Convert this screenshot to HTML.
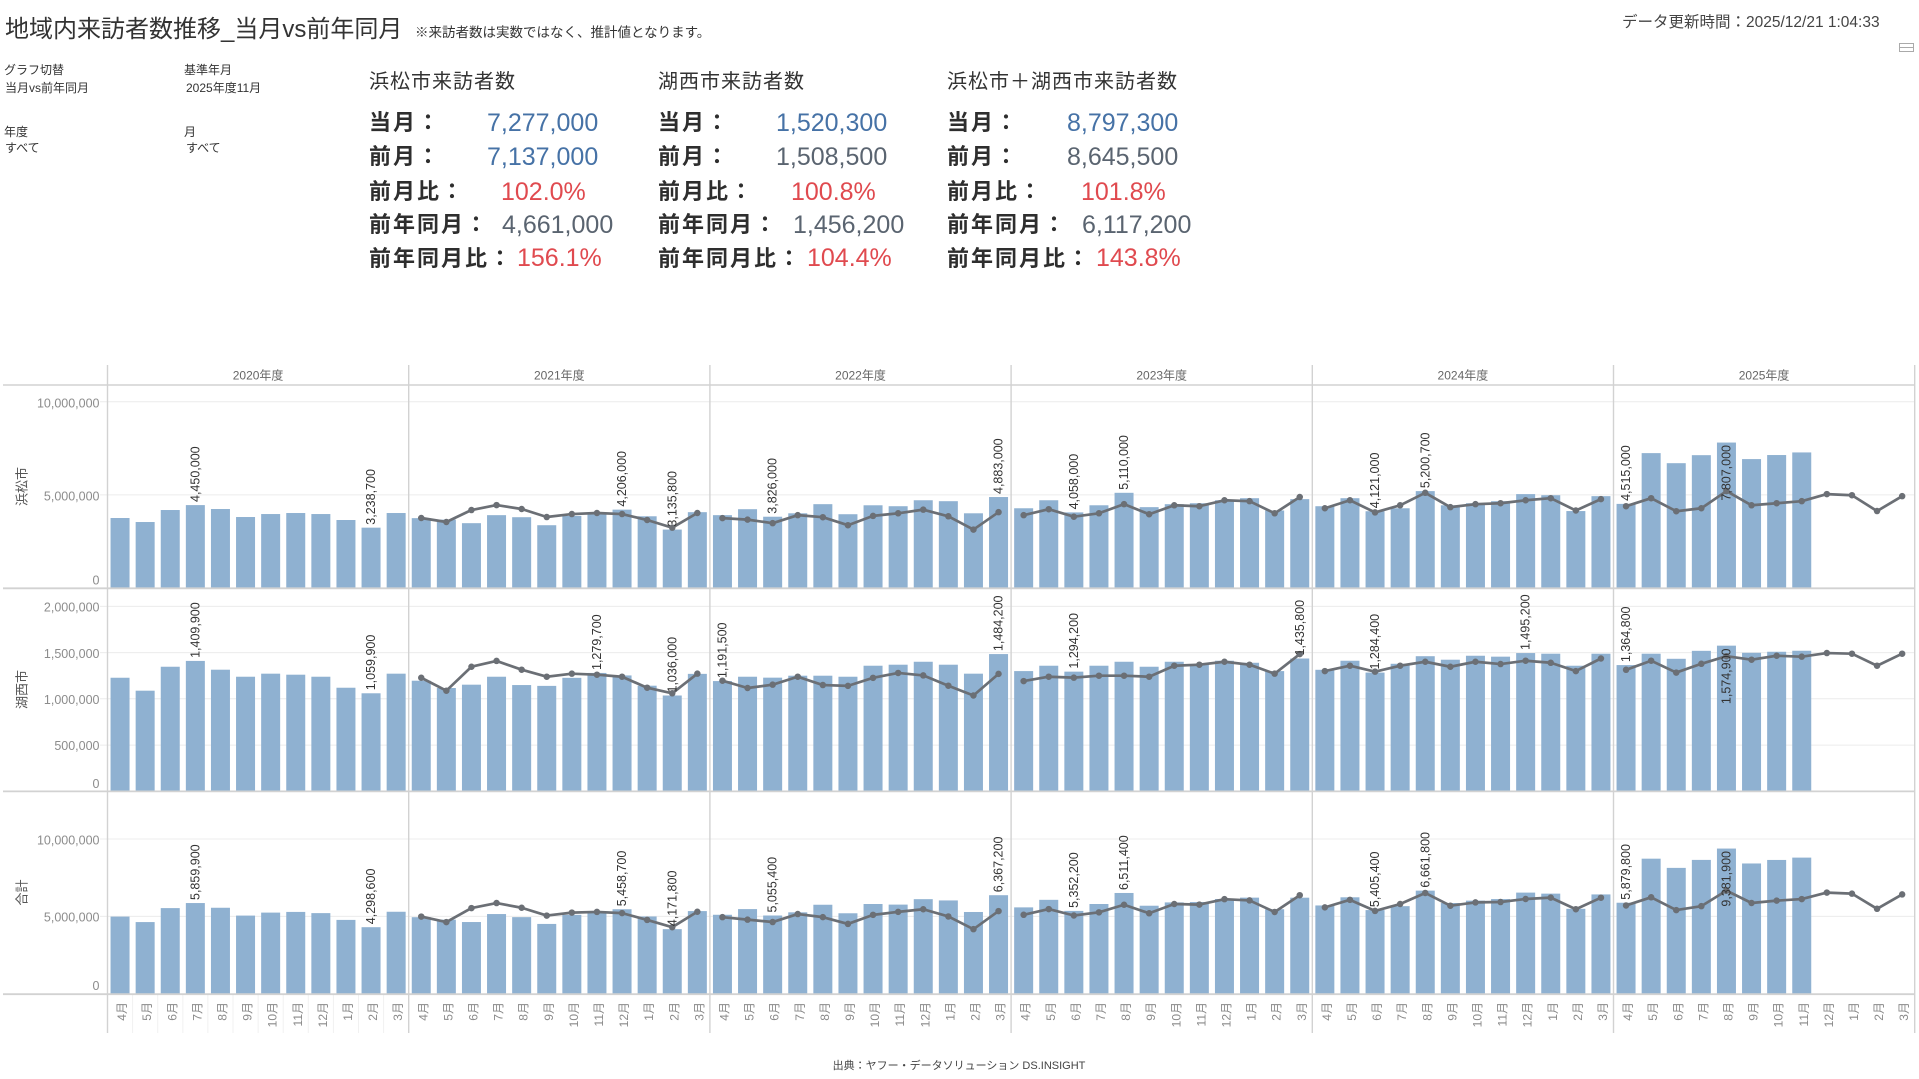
<!DOCTYPE html>
<html><head><meta charset="utf-8">
<style>
html,body{margin:0;padding:0;background:#fff;}
body{width:1919px;height:1079px;position:relative;overflow:hidden;font-family:"Liberation Sans","Noto Sans CJK JP",sans-serif;}
.a{position:absolute;white-space:nowrap;line-height:1;}
.f{font-size:12px;color:#333;}
.h{font-size:20px;color:#333;letter-spacing:1px;}
.l{font-size:22px;font-weight:bold;color:#2e2e2e;letter-spacing:2px;}
.v{font-size:25px;}
.b{color:#4672a6;}.g{color:#5a6470;}.r{color:#e04a4f;}
svg{position:absolute;left:0;top:0;}
.bar rect{fill:#8fb1d1;}
.ln{fill:none;stroke:#6b6f75;stroke-width:2.7;stroke-linejoin:round;}
.dt{fill:none;stroke:#6b6f75;stroke-width:6.5;stroke-linecap:round;}
.dl{font-size:12.5px;fill:#333;}
.ax{font-size:12.5px;fill:#8c8c8c;}
.mx{font-size:12px;fill:#8a8a8a;}
</style></head><body>

<div class="a" style="left:5px;top:18px;font-size:24px;color:#333;">地域内来訪者数推移_当月vs前年同月</div>
<div class="a" style="left:415px;top:26px;font-size:13.5px;color:#333;">※来訪者数は実数ではなく、推計値となります。</div>
<div class="a" style="left:1622px;top:15px;font-size:15.5px;color:#444;">データ更新時間：2025/12/21 1:04:33</div>
<div class="a" style="left:1899px;top:43px;width:13px;height:7px;border:1px solid #aaa;"><div style="position:absolute;left:0;top:3px;width:13px;height:1px;background:#aaa;"></div></div>

<div class="a f" style="left:4px;top:64px;">グラフ切替</div>
<div class="a f" style="left:5px;top:82px;">当月vs前年同月</div>
<div class="a f" style="left:184px;top:64px;">基準年月</div>
<div class="a f" style="left:186px;top:82px;">2025年度11月</div>
<div class="a f" style="left:4px;top:126px;">年度</div>
<div class="a f" style="left:5px;top:142px;">すべて</div>
<div class="a f" style="left:184px;top:126px;">月</div>
<div class="a f" style="left:186px;top:142px;">すべて</div>

<div class="a h" style="left:369px;top:72px;">浜松市来訪者数</div>
<div class="a h" style="left:658px;top:72px;">湖西市来訪者数</div>
<div class="a h" style="left:947px;top:72px;">浜松市＋湖西市来訪者数</div>

<div class="a l" style="left:369px;top:112px;">当月：</div>
<div class="a l" style="left:369px;top:146px;">前月：</div>
<div class="a l" style="left:369px;top:181px;">前月比：</div>
<div class="a l" style="left:369px;top:214px;">前年同月：</div>
<div class="a l" style="left:369px;top:248px;">前年同月比：</div>
<div class="a l" style="left:658px;top:112px;">当月：</div>
<div class="a l" style="left:658px;top:146px;">前月：</div>
<div class="a l" style="left:658px;top:181px;">前月比：</div>
<div class="a l" style="left:658px;top:214px;">前年同月：</div>
<div class="a l" style="left:658px;top:248px;">前年同月比：</div>
<div class="a l" style="left:947px;top:112px;">当月：</div>
<div class="a l" style="left:947px;top:146px;">前月：</div>
<div class="a l" style="left:947px;top:181px;">前月比：</div>
<div class="a l" style="left:947px;top:214px;">前年同月：</div>
<div class="a l" style="left:947px;top:248px;">前年同月比：</div>

<div class="a v b" style="left:487px;top:111px;">7,277,000</div>
<div class="a v b" style="left:487px;top:145px;">7,137,000</div>
<div class="a v r" style="left:501px;top:180px;">102.0%</div>
<div class="a v g" style="left:502px;top:213px;">4,661,000</div>
<div class="a v r" style="left:517px;top:246px;">156.1%</div>
<div class="a v b" style="left:776px;top:111px;">1,520,300</div>
<div class="a v g" style="left:776px;top:145px;">1,508,500</div>
<div class="a v r" style="left:791px;top:180px;">100.8%</div>
<div class="a v g" style="left:793px;top:213px;">1,456,200</div>
<div class="a v r" style="left:807px;top:246px;">104.4%</div>
<div class="a v b" style="left:1067px;top:111px;">8,797,300</div>
<div class="a v g" style="left:1067px;top:145px;">8,645,500</div>
<div class="a v r" style="left:1081px;top:180px;">101.8%</div>
<div class="a v g" style="left:1082px;top:213px;">6,117,200</div>
<div class="a v r" style="left:1096px;top:246px;">143.8%</div>

<svg width="1919" height="1079" viewBox="0 0 1919 1079" font-family="Liberation Sans, Noto Sans CJK JP, sans-serif">
<!-- gridlines -->
<g stroke="#ececec" stroke-width="1">
<line x1="100" y1="401.7" x2="1914" y2="401.7"/><line x1="100" y1="494.9" x2="1914" y2="494.9"/>
<line x1="100" y1="606.4" x2="1914" y2="606.4"/><line x1="100" y1="652.6" x2="1914" y2="652.6"/>
<line x1="100" y1="698.8" x2="1914" y2="698.8"/><line x1="100" y1="745.1" x2="1914" y2="745.1"/>
<line x1="100" y1="839" x2="1914" y2="839"/><line x1="100" y1="916.4" x2="1914" y2="916.4"/>
</g>
<!-- month separators in axis -->
<g stroke="#f1f1f1" stroke-width="1">
<line x1="132.6" y1="995" x2="132.6" y2="1033"/><line x1="157.7" y1="995" x2="157.7" y2="1033"/><line x1="182.8" y1="995" x2="182.8" y2="1033"/><line x1="207.9" y1="995" x2="207.9" y2="1033"/><line x1="233" y1="995" x2="233" y2="1033"/><line x1="258.1" y1="995" x2="258.1" y2="1033"/><line x1="283.2" y1="995" x2="283.2" y2="1033"/><line x1="308.3" y1="995" x2="308.3" y2="1033"/><line x1="333.4" y1="995" x2="333.4" y2="1033"/><line x1="358.5" y1="995" x2="358.5" y2="1033"/><line x1="383.6" y1="995" x2="383.6" y2="1033"/>
</g>

<!-- PANEL 1 bars -->
<g class="bar">
<g transform="translate(107.5,588) scale(1,-18.63)"><rect x="3.05" width="19" height="3.757"/><rect x="28.15" width="19" height="3.542"/><rect x="53.25" width="19" height="4.186"/><rect x="78.35" width="19" height="4.45"/><rect x="103.45" width="19" height="4.24"/><rect x="128.55" width="19" height="3.81"/><rect x="153.65" width="19" height="3.97"/><rect x="178.75" width="19" height="4.025"/><rect x="203.85" width="19" height="3.97"/><rect x="228.95" width="19" height="3.65"/><rect x="254.05" width="19" height="3.239"/><rect x="279.15" width="19" height="4.025"/></g>
<g transform="translate(408.7,588) scale(1,-18.63)"><rect x="3.05" width="19" height="3.75"/><rect x="28.15" width="19" height="3.67"/><rect x="53.25" width="19" height="3.48"/><rect x="78.35" width="19" height="3.91"/><rect x="103.45" width="19" height="3.8"/><rect x="128.55" width="19" height="3.37"/><rect x="153.65" width="19" height="3.87"/><rect x="178.75" width="19" height="4.01"/><rect x="203.85" width="19" height="4.206"/><rect x="228.95" width="19" height="3.85"/><rect x="254.05" width="19" height="3.136"/><rect x="279.15" width="19" height="4.07"/></g>
<g transform="translate(709.9,588) scale(1,-18.63)"><rect x="3.05" width="19" height="3.91"/><rect x="28.15" width="19" height="4.23"/><rect x="53.25" width="19" height="3.826"/><rect x="78.35" width="19" height="4.01"/><rect x="103.45" width="19" height="4.5"/><rect x="128.55" width="19" height="3.96"/><rect x="153.65" width="19" height="4.44"/><rect x="178.75" width="19" height="4.39"/><rect x="203.85" width="19" height="4.71"/><rect x="228.95" width="19" height="4.66"/><rect x="254.05" width="19" height="4.01"/><rect x="279.15" width="19" height="4.883"/></g>
<g transform="translate(1011.1,588) scale(1,-18.63)"><rect x="3.05" width="19" height="4.28"/><rect x="28.15" width="19" height="4.71"/><rect x="53.25" width="19" height="4.058"/><rect x="78.35" width="19" height="4.44"/><rect x="103.45" width="19" height="5.11"/><rect x="128.55" width="19" height="4.34"/><rect x="153.65" width="19" height="4.5"/><rect x="178.75" width="19" height="4.55"/><rect x="203.85" width="19" height="4.71"/><rect x="228.95" width="19" height="4.82"/><rect x="254.05" width="19" height="4.16"/><rect x="279.15" width="19" height="4.77"/></g>
<g transform="translate(1312.3,588) scale(1,-18.63)"><rect x="3.05" width="19" height="4.39"/><rect x="28.15" width="19" height="4.82"/><rect x="53.25" width="19" height="4.121"/><rect x="78.35" width="19" height="4.28"/><rect x="103.45" width="19" height="5.201"/><rect x="128.55" width="19" height="4.44"/><rect x="153.65" width="19" height="4.55"/><rect x="178.75" width="19" height="4.661"/><rect x="203.85" width="19" height="5.04"/><rect x="228.95" width="19" height="4.98"/><rect x="254.05" width="19" height="4.13"/><rect x="279.15" width="19" height="4.93"/></g>
<g transform="translate(1613.5,588) scale(1,-18.63)"><rect x="3.05" width="19" height="4.515"/><rect x="28.15" width="19" height="7.24"/><rect x="53.25" width="19" height="6.7"/><rect x="78.35" width="19" height="7.13"/><rect x="103.45" width="19" height="7.807"/><rect x="128.55" width="19" height="6.92"/><rect x="153.65" width="19" height="7.137"/><rect x="178.75" width="19" height="7.277"/></g>
</g>

<!-- PANEL 2 bars -->
<g class="bar">
<g transform="translate(107.5,791.3) scale(1,-92.47)"><rect x="3.05" width="19" height="1.228"/><rect x="28.15" width="19" height="1.088"/><rect x="53.25" width="19" height="1.347"/><rect x="78.35" width="19" height="1.41"/><rect x="103.45" width="19" height="1.315"/><rect x="128.55" width="19" height="1.239"/><rect x="153.65" width="19" height="1.272"/><rect x="178.75" width="19" height="1.261"/><rect x="203.85" width="19" height="1.239"/><rect x="228.95" width="19" height="1.12"/><rect x="254.05" width="19" height="1.06"/><rect x="279.15" width="19" height="1.272"/></g>
<g transform="translate(408.7,791.3) scale(1,-92.47)"><rect x="3.05" width="19" height="1.196"/><rect x="28.15" width="19" height="1.117"/><rect x="53.25" width="19" height="1.153"/><rect x="78.35" width="19" height="1.239"/><rect x="103.45" width="19" height="1.149"/><rect x="128.55" width="19" height="1.14"/><rect x="153.65" width="19" height="1.227"/><rect x="178.75" width="19" height="1.28"/><rect x="203.85" width="19" height="1.253"/><rect x="228.95" width="19" height="1.142"/><rect x="254.05" width="19" height="1.036"/><rect x="279.15" width="19" height="1.27"/></g>
<g transform="translate(709.9,791.3) scale(1,-92.47)"><rect x="3.05" width="19" height="1.192"/><rect x="28.15" width="19" height="1.239"/><rect x="53.25" width="19" height="1.229"/><rect x="78.35" width="19" height="1.25"/><rect x="103.45" width="19" height="1.25"/><rect x="128.55" width="19" height="1.239"/><rect x="153.65" width="19" height="1.358"/><rect x="178.75" width="19" height="1.369"/><rect x="203.85" width="19" height="1.401"/><rect x="228.95" width="19" height="1.369"/><rect x="254.05" width="19" height="1.272"/><rect x="279.15" width="19" height="1.484"/></g>
<g transform="translate(1011.1,791.3) scale(1,-92.47)"><rect x="3.05" width="19" height="1.3"/><rect x="28.15" width="19" height="1.358"/><rect x="53.25" width="19" height="1.294"/><rect x="78.35" width="19" height="1.358"/><rect x="103.45" width="19" height="1.401"/><rect x="128.55" width="19" height="1.347"/><rect x="153.65" width="19" height="1.401"/><rect x="178.75" width="19" height="1.376"/><rect x="203.85" width="19" height="1.412"/><rect x="228.95" width="19" height="1.39"/><rect x="254.05" width="19" height="1.3"/><rect x="279.15" width="19" height="1.436"/></g>
<g transform="translate(1312.3,791.3) scale(1,-92.47)"><rect x="3.05" width="19" height="1.314"/><rect x="28.15" width="19" height="1.412"/><rect x="53.25" width="19" height="1.284"/><rect x="78.35" width="19" height="1.379"/><rect x="103.45" width="19" height="1.461"/><rect x="128.55" width="19" height="1.423"/><rect x="153.65" width="19" height="1.466"/><rect x="178.75" width="19" height="1.456"/><rect x="203.85" width="19" height="1.495"/><rect x="228.95" width="19" height="1.488"/><rect x="254.05" width="19" height="1.358"/><rect x="279.15" width="19" height="1.488"/></g>
<g transform="translate(1613.5,791.3) scale(1,-92.47)"><rect x="3.05" width="19" height="1.365"/><rect x="28.15" width="19" height="1.488"/><rect x="53.25" width="19" height="1.433"/><rect x="78.35" width="19" height="1.519"/><rect x="103.45" width="19" height="1.575"/><rect x="128.55" width="19" height="1.498"/><rect x="153.65" width="19" height="1.509"/><rect x="178.75" width="19" height="1.52"/></g>
</g>

<!-- PANEL 3 bars -->
<g class="bar">
<g transform="translate(107.5,993.7) scale(1,-15.47)"><rect x="3.05" width="19" height="4.985"/><rect x="28.15" width="19" height="4.63"/><rect x="53.25" width="19" height="5.533"/><rect x="78.35" width="19" height="5.86"/><rect x="103.45" width="19" height="5.555"/><rect x="128.55" width="19" height="5.049"/><rect x="153.65" width="19" height="5.242"/><rect x="178.75" width="19" height="5.286"/><rect x="203.85" width="19" height="5.209"/><rect x="228.95" width="19" height="4.77"/><rect x="254.05" width="19" height="4.299"/><rect x="279.15" width="19" height="5.297"/></g>
<g transform="translate(408.7,993.7) scale(1,-15.47)"><rect x="3.05" width="19" height="4.946"/><rect x="28.15" width="19" height="4.787"/><rect x="53.25" width="19" height="4.633"/><rect x="78.35" width="19" height="5.149"/><rect x="103.45" width="19" height="4.949"/><rect x="128.55" width="19" height="4.51"/><rect x="153.65" width="19" height="5.097"/><rect x="178.75" width="19" height="5.29"/><rect x="203.85" width="19" height="5.459"/><rect x="228.95" width="19" height="4.992"/><rect x="254.05" width="19" height="4.172"/><rect x="279.15" width="19" height="5.34"/></g>
<g transform="translate(709.9,993.7) scale(1,-15.47)"><rect x="3.05" width="19" height="5.102"/><rect x="28.15" width="19" height="5.469"/><rect x="53.25" width="19" height="5.055"/><rect x="78.35" width="19" height="5.26"/><rect x="103.45" width="19" height="5.75"/><rect x="128.55" width="19" height="5.199"/><rect x="153.65" width="19" height="5.798"/><rect x="178.75" width="19" height="5.759"/><rect x="203.85" width="19" height="6.111"/><rect x="228.95" width="19" height="6.029"/><rect x="254.05" width="19" height="5.282"/><rect x="279.15" width="19" height="6.367"/></g>
<g transform="translate(1011.1,993.7) scale(1,-15.47)"><rect x="3.05" width="19" height="5.58"/><rect x="28.15" width="19" height="6.068"/><rect x="53.25" width="19" height="5.352"/><rect x="78.35" width="19" height="5.798"/><rect x="103.45" width="19" height="6.511"/><rect x="128.55" width="19" height="5.687"/><rect x="153.65" width="19" height="5.901"/><rect x="178.75" width="19" height="5.926"/><rect x="203.85" width="19" height="6.122"/><rect x="228.95" width="19" height="6.21"/><rect x="254.05" width="19" height="5.46"/><rect x="279.15" width="19" height="6.206"/></g>
<g transform="translate(1312.3,993.7) scale(1,-15.47)"><rect x="3.05" width="19" height="5.704"/><rect x="28.15" width="19" height="6.232"/><rect x="53.25" width="19" height="5.405"/><rect x="78.35" width="19" height="5.659"/><rect x="103.45" width="19" height="6.662"/><rect x="128.55" width="19" height="5.863"/><rect x="153.65" width="19" height="6.016"/><rect x="178.75" width="19" height="6.117"/><rect x="203.85" width="19" height="6.535"/><rect x="228.95" width="19" height="6.468"/><rect x="254.05" width="19" height="5.488"/><rect x="279.15" width="19" height="6.418"/></g>
<g transform="translate(1613.5,993.7) scale(1,-15.47)"><rect x="3.05" width="19" height="5.88"/><rect x="28.15" width="19" height="8.728"/><rect x="53.25" width="19" height="8.133"/><rect x="78.35" width="19" height="8.649"/><rect x="103.45" width="19" height="9.382"/><rect x="128.55" width="19" height="8.418"/><rect x="153.65" width="19" height="8.646"/><rect x="178.75" width="19" height="8.797"/></g>
</g>

<!-- axis / frame lines -->
<g stroke="#d2d2d2">
<line x1="3" y1="385" x2="1915" y2="385" stroke-width="1.6"/>
<line x1="3" y1="588.3" x2="1915" y2="588.3" stroke-width="1.8"/>
<line x1="3" y1="791.4" x2="1915" y2="791.4" stroke-width="1.8"/>
<line x1="3" y1="994.2" x2="1915" y2="994.2" stroke-width="1.8"/>
<line x1="107.5" y1="365" x2="107.5" y2="1033" stroke-width="1.4"/>
<line x1="408.7" y1="365" x2="408.7" y2="1033" stroke-width="1.4"/>
<line x1="709.9" y1="365" x2="709.9" y2="1033" stroke-width="1.4"/>
<line x1="1011.1" y1="365" x2="1011.1" y2="1033" stroke-width="1.4"/>
<line x1="1312.3" y1="365" x2="1312.3" y2="1033" stroke-width="1.4"/>
<line x1="1613.5" y1="365" x2="1613.5" y2="1033" stroke-width="1.4"/>
<line x1="1914.7" y1="365" x2="1914.7" y2="1033" stroke-width="1.4"/>
</g>

<!-- PANEL 1 lines -->
<g transform="translate(408.7,588) scale(1,-18.63)"><polyline class="ln" vector-effect="non-scaling-stroke" points="12.55,3.757 37.65,3.542 62.75,4.186 87.85,4.45 112.95,4.24 138.05,3.81 163.15,3.97 188.25,4.025 213.35,3.97 238.45,3.65 263.55,3.239 288.65,4.025"/><path class="dt" vector-effect="non-scaling-stroke" d="M12.55 3.757h0M37.65 3.542h0M62.75 4.186h0M87.85 4.45h0M112.95 4.24h0M138.05 3.81h0M163.15 3.97h0M188.25 4.025h0M213.35 3.97h0M238.45 3.65h0M263.55 3.239h0M288.65 4.025h0"/></g>
<g transform="translate(709.9,588) scale(1,-18.63)"><polyline class="ln" vector-effect="non-scaling-stroke" points="12.55,3.75 37.65,3.67 62.75,3.48 87.85,3.91 112.95,3.8 138.05,3.37 163.15,3.87 188.25,4.01 213.35,4.206 238.45,3.85 263.55,3.136 288.65,4.07"/><path class="dt" vector-effect="non-scaling-stroke" d="M12.55 3.75h0M37.65 3.67h0M62.75 3.48h0M87.85 3.91h0M112.95 3.8h0M138.05 3.37h0M163.15 3.87h0M188.25 4.01h0M213.35 4.206h0M238.45 3.85h0M263.55 3.136h0M288.65 4.07h0"/></g>
<g transform="translate(1011.1,588) scale(1,-18.63)"><polyline class="ln" vector-effect="non-scaling-stroke" points="12.55,3.91 37.65,4.23 62.75,3.826 87.85,4.01 112.95,4.5 138.05,3.96 163.15,4.44 188.25,4.39 213.35,4.71 238.45,4.66 263.55,4.01 288.65,4.883"/><path class="dt" vector-effect="non-scaling-stroke" d="M12.55 3.91h0M37.65 4.23h0M62.75 3.826h0M87.85 4.01h0M112.95 4.5h0M138.05 3.96h0M163.15 4.44h0M188.25 4.39h0M213.35 4.71h0M238.45 4.66h0M263.55 4.01h0M288.65 4.883h0"/></g>
<g transform="translate(1312.3,588) scale(1,-18.63)"><polyline class="ln" vector-effect="non-scaling-stroke" points="12.55,4.28 37.65,4.71 62.75,4.058 87.85,4.44 112.95,5.11 138.05,4.34 163.15,4.5 188.25,4.55 213.35,4.71 238.45,4.82 263.55,4.16 288.65,4.77"/><path class="dt" vector-effect="non-scaling-stroke" d="M12.55 4.28h0M37.65 4.71h0M62.75 4.058h0M87.85 4.44h0M112.95 5.11h0M138.05 4.34h0M163.15 4.5h0M188.25 4.55h0M213.35 4.71h0M238.45 4.82h0M263.55 4.16h0M288.65 4.77h0"/></g>
<g transform="translate(1613.5,588) scale(1,-18.63)"><polyline class="ln" vector-effect="non-scaling-stroke" points="12.55,4.39 37.65,4.82 62.75,4.121 87.85,4.28 112.95,5.201 138.05,4.44 163.15,4.55 188.25,4.661 213.35,5.04 238.45,4.98 263.55,4.13 288.65,4.93"/><path class="dt" vector-effect="non-scaling-stroke" d="M12.55 4.39h0M37.65 4.82h0M62.75 4.121h0M87.85 4.28h0M112.95 5.201h0M138.05 4.44h0M163.15 4.55h0M188.25 4.661h0M213.35 5.04h0M238.45 4.98h0M263.55 4.13h0M288.65 4.93h0"/></g>

<!-- PANEL 2 lines -->
<g transform="translate(408.7,791.3) scale(1,-92.47)"><polyline class="ln" vector-effect="non-scaling-stroke" points="12.55,1.228 37.65,1.088 62.75,1.347 87.85,1.41 112.95,1.315 138.05,1.239 163.15,1.272 188.25,1.261 213.35,1.239 238.45,1.12 263.55,1.06 288.65,1.272"/><path class="dt" vector-effect="non-scaling-stroke" d="M12.55 1.228h0M37.65 1.088h0M62.75 1.347h0M87.85 1.41h0M112.95 1.315h0M138.05 1.239h0M163.15 1.272h0M188.25 1.261h0M213.35 1.239h0M238.45 1.12h0M263.55 1.06h0M288.65 1.272h0"/></g>
<g transform="translate(709.9,791.3) scale(1,-92.47)"><polyline class="ln" vector-effect="non-scaling-stroke" points="12.55,1.196 37.65,1.117 62.75,1.153 87.85,1.239 112.95,1.149 138.05,1.14 163.15,1.227 188.25,1.28 213.35,1.253 238.45,1.142 263.55,1.036 288.65,1.27"/><path class="dt" vector-effect="non-scaling-stroke" d="M12.55 1.196h0M37.65 1.117h0M62.75 1.153h0M87.85 1.239h0M112.95 1.149h0M138.05 1.14h0M163.15 1.227h0M188.25 1.28h0M213.35 1.253h0M238.45 1.142h0M263.55 1.036h0M288.65 1.27h0"/></g>
<g transform="translate(1011.1,791.3) scale(1,-92.47)"><polyline class="ln" vector-effect="non-scaling-stroke" points="12.55,1.192 37.65,1.239 62.75,1.229 87.85,1.25 112.95,1.25 138.05,1.239 163.15,1.358 188.25,1.369 213.35,1.401 238.45,1.369 263.55,1.272 288.65,1.484"/><path class="dt" vector-effect="non-scaling-stroke" d="M12.55 1.192h0M37.65 1.239h0M62.75 1.229h0M87.85 1.25h0M112.95 1.25h0M138.05 1.239h0M163.15 1.358h0M188.25 1.369h0M213.35 1.401h0M238.45 1.369h0M263.55 1.272h0M288.65 1.484h0"/></g>
<g transform="translate(1312.3,791.3) scale(1,-92.47)"><polyline class="ln" vector-effect="non-scaling-stroke" points="12.55,1.3 37.65,1.358 62.75,1.294 87.85,1.358 112.95,1.401 138.05,1.347 163.15,1.401 188.25,1.376 213.35,1.412 238.45,1.39 263.55,1.3 288.65,1.436"/><path class="dt" vector-effect="non-scaling-stroke" d="M12.55 1.3h0M37.65 1.358h0M62.75 1.294h0M87.85 1.358h0M112.95 1.401h0M138.05 1.347h0M163.15 1.401h0M188.25 1.376h0M213.35 1.412h0M238.45 1.39h0M263.55 1.3h0M288.65 1.436h0"/></g>
<g transform="translate(1613.5,791.3) scale(1,-92.47)"><polyline class="ln" vector-effect="non-scaling-stroke" points="12.55,1.314 37.65,1.412 62.75,1.284 87.85,1.379 112.95,1.461 138.05,1.423 163.15,1.466 188.25,1.456 213.35,1.495 238.45,1.488 263.55,1.358 288.65,1.488"/><path class="dt" vector-effect="non-scaling-stroke" d="M12.55 1.314h0M37.65 1.412h0M62.75 1.284h0M87.85 1.379h0M112.95 1.461h0M138.05 1.423h0M163.15 1.466h0M188.25 1.456h0M213.35 1.495h0M238.45 1.488h0M263.55 1.358h0M288.65 1.488h0"/></g>

<!-- PANEL 3 lines -->
<g transform="translate(408.7,993.7) scale(1,-15.47)"><polyline class="ln" vector-effect="non-scaling-stroke" points="12.55,4.985 37.65,4.63 62.75,5.533 87.85,5.86 112.95,5.555 138.05,5.049 163.15,5.242 188.25,5.286 213.35,5.209 238.45,4.77 263.55,4.299 288.65,5.297"/><path class="dt" vector-effect="non-scaling-stroke" d="M12.55 4.985h0M37.65 4.63h0M62.75 5.533h0M87.85 5.86h0M112.95 5.555h0M138.05 5.049h0M163.15 5.242h0M188.25 5.286h0M213.35 5.209h0M238.45 4.77h0M263.55 4.299h0M288.65 5.297h0"/></g>
<g transform="translate(709.9,993.7) scale(1,-15.47)"><polyline class="ln" vector-effect="non-scaling-stroke" points="12.55,4.946 37.65,4.787 62.75,4.633 87.85,5.149 112.95,4.949 138.05,4.51 163.15,5.097 188.25,5.29 213.35,5.459 238.45,4.992 263.55,4.172 288.65,5.34"/><path class="dt" vector-effect="non-scaling-stroke" d="M12.55 4.946h0M37.65 4.787h0M62.75 4.633h0M87.85 5.149h0M112.95 4.949h0M138.05 4.51h0M163.15 5.097h0M188.25 5.29h0M213.35 5.459h0M238.45 4.992h0M263.55 4.172h0M288.65 5.34h0"/></g>
<g transform="translate(1011.1,993.7) scale(1,-15.47)"><polyline class="ln" vector-effect="non-scaling-stroke" points="12.55,5.102 37.65,5.469 62.75,5.055 87.85,5.26 112.95,5.75 138.05,5.199 163.15,5.798 188.25,5.759 213.35,6.111 238.45,6.029 263.55,5.282 288.65,6.367"/><path class="dt" vector-effect="non-scaling-stroke" d="M12.55 5.102h0M37.65 5.469h0M62.75 5.055h0M87.85 5.26h0M112.95 5.75h0M138.05 5.199h0M163.15 5.798h0M188.25 5.759h0M213.35 6.111h0M238.45 6.029h0M263.55 5.282h0M288.65 6.367h0"/></g>
<g transform="translate(1312.3,993.7) scale(1,-15.47)"><polyline class="ln" vector-effect="non-scaling-stroke" points="12.55,5.58 37.65,6.068 62.75,5.352 87.85,5.798 112.95,6.511 138.05,5.687 163.15,5.901 188.25,5.926 213.35,6.122 238.45,6.21 263.55,5.46 288.65,6.206"/><path class="dt" vector-effect="non-scaling-stroke" d="M12.55 5.58h0M37.65 6.068h0M62.75 5.352h0M87.85 5.798h0M112.95 6.511h0M138.05 5.687h0M163.15 5.901h0M188.25 5.926h0M213.35 6.122h0M238.45 6.21h0M263.55 5.46h0M288.65 6.206h0"/></g>
<g transform="translate(1613.5,993.7) scale(1,-15.47)"><polyline class="ln" vector-effect="non-scaling-stroke" points="12.55,5.704 37.65,6.232 62.75,5.405 87.85,5.659 112.95,6.662 138.05,5.863 163.15,6.016 188.25,6.117 213.35,6.535 238.45,6.468 263.55,5.488 288.65,6.418"/><path class="dt" vector-effect="non-scaling-stroke" d="M12.55 5.704h0M37.65 6.232h0M62.75 5.405h0M87.85 5.659h0M112.95 6.662h0M138.05 5.863h0M163.15 6.016h0M188.25 6.117h0M213.35 6.535h0M238.45 6.468h0M263.55 5.488h0M288.65 6.418h0"/></g>

<!-- year headers -->
<g font-size="12" fill="#666" text-anchor="middle">
<text x="258.1" y="379.5">2020年度</text><text x="559.3" y="379.5">2021年度</text><text x="860.5" y="379.5">2022年度</text><text x="1161.7" y="379.5">2023年度</text><text x="1462.9" y="379.5">2024年度</text><text x="1764.1" y="379.5">2025年度</text>
</g>

<!-- y axis labels -->
<g class="ax" text-anchor="end">
<text x="99.5" y="407.5">10,000,000</text><text x="99.5" y="500.5">5,000,000</text><text x="99.5" y="584.5">0</text>
<text x="99.5" y="611.5">2,000,000</text><text x="99.5" y="658">1,500,000</text><text x="99.5" y="704">1,000,000</text><text x="99.5" y="750">500,000</text><text x="99.5" y="787.8">0</text>
<text x="99.5" y="844.5">10,000,000</text><text x="99.5" y="921.5">5,000,000</text><text x="99.5" y="990">0</text>
</g>
<g font-size="13" fill="#555" text-anchor="middle">
<text transform="translate(26.5,486.5) rotate(-90)">浜松市</text>
<text transform="translate(26.5,689.5) rotate(-90)">湖西市</text>
<text transform="translate(26.5,892.5) rotate(-90)">合計</text>
</g>

<!-- data labels -->
<g class="dl">
<g transform="translate(107.5,0)">
<text transform="translate(91.85,502) rotate(-90)">4,450,000</text><text transform="translate(267.55,524.7) rotate(-90)">3,238,700</text>
<text transform="translate(91.85,657.9) rotate(-90)">1,409,900</text><text transform="translate(267.55,690.3) rotate(-90)">1,059,900</text>
<text transform="translate(91.85,900) rotate(-90)">5,859,900</text><text transform="translate(267.55,924.2) rotate(-90)">4,298,600</text>
</g>
<g transform="translate(408.7,0)">
<text transform="translate(217.35,506.6) rotate(-90)">4,206,000</text><text transform="translate(267.55,526.6) rotate(-90)">3,135,800</text>
<text transform="translate(192.25,670) rotate(-90)">1,279,700</text><text transform="translate(267.55,692.5) rotate(-90)">1,036,000</text>
<text transform="translate(217.35,906.3) rotate(-90)">5,458,700</text><text transform="translate(267.55,926.2) rotate(-90)">4,171,800</text>
</g>
<g transform="translate(709.9,0)">
<text transform="translate(66.75,513.7) rotate(-90)">3,826,000</text><text transform="translate(292.65,494) rotate(-90)">4,883,000</text>
<text transform="translate(16.55,678.1) rotate(-90)">1,191,500</text><text transform="translate(292.65,651.1) rotate(-90)">1,484,200</text>
<text transform="translate(66.75,912.5) rotate(-90)">5,055,400</text><text transform="translate(292.65,892.2) rotate(-90)">6,367,200</text>
</g>
<g transform="translate(1011.1,0)">
<text transform="translate(66.75,509.4) rotate(-90)">4,058,000</text><text transform="translate(116.95,489.8) rotate(-90)">5,110,000</text>
<text transform="translate(66.75,668.6) rotate(-90)">1,294,200</text><text transform="translate(292.65,655.5) rotate(-90)">1,435,800</text>
<text transform="translate(66.75,907.9) rotate(-90)">5,352,200</text><text transform="translate(116.95,890) rotate(-90)">6,511,400</text>
</g>
<g transform="translate(1312.3,0)">
<text transform="translate(66.75,508.2) rotate(-90)">4,121,000</text><text transform="translate(116.95,488.1) rotate(-90)">5,200,700</text>
<text transform="translate(66.75,669.5) rotate(-90)">1,284,400</text><text transform="translate(217.35,650) rotate(-90)">1,495,200</text>
<text transform="translate(66.75,907.1) rotate(-90)">5,405,400</text><text transform="translate(116.95,887.6) rotate(-90)">6,661,800</text>
</g>
<g transform="translate(1613.5,0)">
<text transform="translate(16.55,500.9) rotate(-90)">4,515,000</text><text text-anchor="end" transform="translate(116.95,445) rotate(-90)">7,807,000</text>
<text transform="translate(16.55,662.1) rotate(-90)">1,364,800</text><text text-anchor="end" transform="translate(116.95,648.5) rotate(-90)">1,574,900</text>
<text transform="translate(16.55,899.7) rotate(-90)">5,879,800</text><text text-anchor="end" transform="translate(116.95,851) rotate(-90)">9,381,900</text>
</g>
</g>

<!-- month labels -->
<g class="mx" text-anchor="end">
<g transform="translate(107.5,0)"><text transform="translate(18.55,1002) rotate(-90)">4月</text><text transform="translate(43.65,1002) rotate(-90)">5月</text><text transform="translate(68.75,1002) rotate(-90)">6月</text><text transform="translate(93.85,1002) rotate(-90)">7月</text><text transform="translate(118.95,1002) rotate(-90)">8月</text><text transform="translate(144.05,1002) rotate(-90)">9月</text><text transform="translate(169.15,1002) rotate(-90)">10月</text><text transform="translate(194.25,1002) rotate(-90)">11月</text><text transform="translate(219.35,1002) rotate(-90)">12月</text><text transform="translate(244.45,1002) rotate(-90)">1月</text><text transform="translate(269.55,1002) rotate(-90)">2月</text><text transform="translate(294.65,1002) rotate(-90)">3月</text></g>
<g transform="translate(408.7,0)"><text transform="translate(18.55,1002) rotate(-90)">4月</text><text transform="translate(43.65,1002) rotate(-90)">5月</text><text transform="translate(68.75,1002) rotate(-90)">6月</text><text transform="translate(93.85,1002) rotate(-90)">7月</text><text transform="translate(118.95,1002) rotate(-90)">8月</text><text transform="translate(144.05,1002) rotate(-90)">9月</text><text transform="translate(169.15,1002) rotate(-90)">10月</text><text transform="translate(194.25,1002) rotate(-90)">11月</text><text transform="translate(219.35,1002) rotate(-90)">12月</text><text transform="translate(244.45,1002) rotate(-90)">1月</text><text transform="translate(269.55,1002) rotate(-90)">2月</text><text transform="translate(294.65,1002) rotate(-90)">3月</text></g>
<g transform="translate(709.9,0)"><text transform="translate(18.55,1002) rotate(-90)">4月</text><text transform="translate(43.65,1002) rotate(-90)">5月</text><text transform="translate(68.75,1002) rotate(-90)">6月</text><text transform="translate(93.85,1002) rotate(-90)">7月</text><text transform="translate(118.95,1002) rotate(-90)">8月</text><text transform="translate(144.05,1002) rotate(-90)">9月</text><text transform="translate(169.15,1002) rotate(-90)">10月</text><text transform="translate(194.25,1002) rotate(-90)">11月</text><text transform="translate(219.35,1002) rotate(-90)">12月</text><text transform="translate(244.45,1002) rotate(-90)">1月</text><text transform="translate(269.55,1002) rotate(-90)">2月</text><text transform="translate(294.65,1002) rotate(-90)">3月</text></g>
<g transform="translate(1011.1,0)"><text transform="translate(18.55,1002) rotate(-90)">4月</text><text transform="translate(43.65,1002) rotate(-90)">5月</text><text transform="translate(68.75,1002) rotate(-90)">6月</text><text transform="translate(93.85,1002) rotate(-90)">7月</text><text transform="translate(118.95,1002) rotate(-90)">8月</text><text transform="translate(144.05,1002) rotate(-90)">9月</text><text transform="translate(169.15,1002) rotate(-90)">10月</text><text transform="translate(194.25,1002) rotate(-90)">11月</text><text transform="translate(219.35,1002) rotate(-90)">12月</text><text transform="translate(244.45,1002) rotate(-90)">1月</text><text transform="translate(269.55,1002) rotate(-90)">2月</text><text transform="translate(294.65,1002) rotate(-90)">3月</text></g>
<g transform="translate(1312.3,0)"><text transform="translate(18.55,1002) rotate(-90)">4月</text><text transform="translate(43.65,1002) rotate(-90)">5月</text><text transform="translate(68.75,1002) rotate(-90)">6月</text><text transform="translate(93.85,1002) rotate(-90)">7月</text><text transform="translate(118.95,1002) rotate(-90)">8月</text><text transform="translate(144.05,1002) rotate(-90)">9月</text><text transform="translate(169.15,1002) rotate(-90)">10月</text><text transform="translate(194.25,1002) rotate(-90)">11月</text><text transform="translate(219.35,1002) rotate(-90)">12月</text><text transform="translate(244.45,1002) rotate(-90)">1月</text><text transform="translate(269.55,1002) rotate(-90)">2月</text><text transform="translate(294.65,1002) rotate(-90)">3月</text></g>
<g transform="translate(1613.5,0)"><text transform="translate(18.55,1002) rotate(-90)">4月</text><text transform="translate(43.65,1002) rotate(-90)">5月</text><text transform="translate(68.75,1002) rotate(-90)">6月</text><text transform="translate(93.85,1002) rotate(-90)">7月</text><text transform="translate(118.95,1002) rotate(-90)">8月</text><text transform="translate(144.05,1002) rotate(-90)">9月</text><text transform="translate(169.15,1002) rotate(-90)">10月</text><text transform="translate(194.25,1002) rotate(-90)">11月</text><text transform="translate(219.35,1002) rotate(-90)">12月</text><text transform="translate(244.45,1002) rotate(-90)">1月</text><text transform="translate(269.55,1002) rotate(-90)">2月</text><text transform="translate(294.65,1002) rotate(-90)">3月</text></g>
</g>

<text x="959" y="1069" font-size="11" fill="#444" text-anchor="middle">出典：ヤフー・データソリューション DS.INSIGHT</text>
</svg>
</body></html>
